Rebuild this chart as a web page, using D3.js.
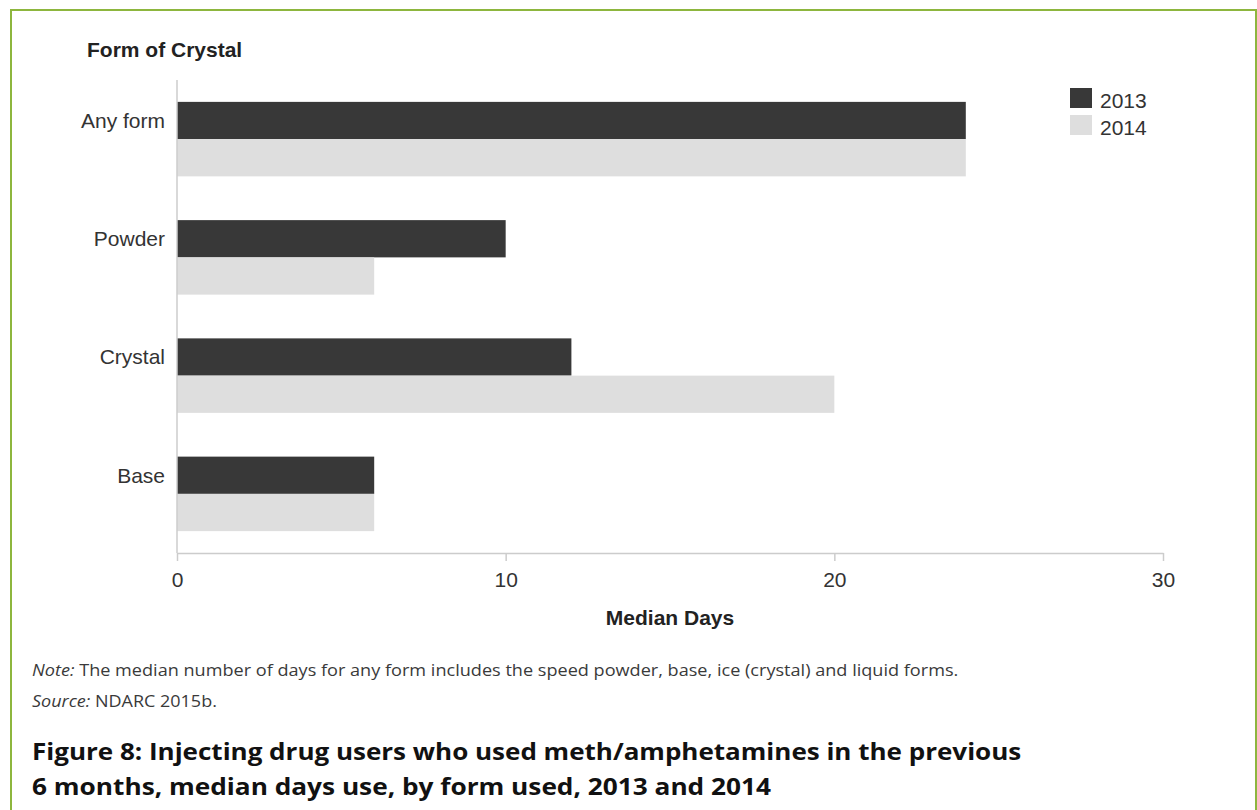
<!DOCTYPE html>
<html><head><meta charset="utf-8">
<script src="https://cdn.jsdelivr.net/npm/d3@7"></script>
<style>body{margin:0;background:#fff;} svg{display:block;}</style>
</head><body>
<svg id="chart" width="1257" height="810"></svg>
<script>
const categories = ["Any form", "Powder", "Crystal", "Base"];
const seriesNames = ["2013", "2014"];
const values2013 = [24, 10, 12, 6];
const values2014 = [24, 6, 20, 6];
const xTicks = [0, 10, 20, 30];
const colors = ["#383838", "#dedede"];

const svg = d3.select("#chart");
const font = "'Liberation Sans', Arial, sans-serif";
const textCol = "#333333";

// green frame
svg.append("path").attr("d", "M11,812 L11,10 L1256,10 L1256,812")
  .attr("fill", "none").attr("stroke", "#8db63e").attr("stroke-width", 2);

const x = d3.scaleLinear().domain([0, 30]).range([177, 1163]);
const y = d3.scaleBand().domain(categories).range([80, 553]).paddingInner(0.37).paddingOuter(0.185);
const ys = d3.scaleBand().domain(seriesNames).range([0, y.bandwidth()]);

const data = categories.map((c, i) => ({cat: c, vals: [values2013[i], values2014[i]]}));

// bars
const g = svg.append("g");
data.forEach(d => {
  d.vals.forEach((v, j) => {
    g.append("rect")
      .attr("x", x(0))
      .attr("y", y(d.cat) + ys(seriesNames[j]))
      .attr("width", x(v) - x(0))
      .attr("height", ys.bandwidth())
      .attr("fill", colors[j]);
  });
});

// y axis line
svg.append("line").attr("x1", x(0)).attr("x2", x(0)).attr("y1", 80).attr("y2", 553)
  .attr("stroke", "#cccccc").attr("stroke-width", 1.5);

// x axis
const xAxis = svg.append("g").attr("transform", "translate(0,553)")
  .call(d3.axisBottom(x).tickValues(xTicks).tickSize(8).tickPadding(11).tickSizeOuter(0));
xAxis.select(".domain").attr("stroke", "#cccccc").attr("stroke-width", 1.5);
xAxis.selectAll(".tick line").attr("stroke", "#cccccc").attr("stroke-width", 1.5);
xAxis.selectAll(".tick text").attr("font-family", font).attr("font-size", 21).attr("fill", textCol);

// category labels (aligned with the first bar of each group)
svg.append("g").selectAll("text").data(categories).join("text")
  .attr("x", 165).attr("y", d => y(d) + ys("2013") + ys.bandwidth() / 2)
  .attr("dy", "0.35em").attr("text-anchor", "end")
  .attr("font-family", font).attr("font-size", 21).attr("fill", textCol)
  .text(d => d);

// y title
svg.append("text").attr("x", 87).attr("y", 57).attr("font-family", font)
  .attr("font-size", 21).attr("font-weight", "bold").attr("fill", "#222").text("Form of Crystal");

// x title
svg.append("text").attr("x", 670).attr("y", 625).attr("text-anchor", "middle").attr("font-family", font)
  .attr("font-size", 21).attr("font-weight", "bold").attr("fill", "#222").text("Median Days");

// legend
const leg = svg.append("g").attr("transform", "translate(1070,88)");
seriesNames.forEach((s, i) => {
  leg.append("rect").attr("x", 0).attr("y", i * 27).attr("width", 22).attr("height", 20).attr("fill", colors[i]);
  leg.append("text").attr("x", 30).attr("y", i * 27 + 20)
    .attr("font-family", font).attr("font-size", 21).attr("fill", textCol).text(s);
});

// helper: squeeze a text horizontally to a target width
function fit(sel, x0, y0, target) {
  const w = sel.node().getBBox().width;
  sel.attr("x", 0).attr("y", 0)
    .attr("transform", `translate(${x0},${y0}) scale(${target / w},1)`);
}

// notes
const nf = "'Open Sans', 'Noto Sans', sans-serif";
const note = svg.append("text").attr("font-family", nf)
  .attr("font-size", 15.5).attr("fill", "#3a3a3a");
note.append("tspan").attr("font-style", "italic").text("Note:");
note.append("tspan").text(" The median number of days for any form includes the speed powder, base, ice (crystal) and liquid forms.");
fit(note, 32, 676, 927);

const src = svg.append("text").attr("font-family", nf)
  .attr("font-size", 15.5).attr("fill", "#3a3a3a");
src.append("tspan").attr("font-style", "italic").text("Source:");
src.append("tspan").text(" NDARC 2015b.");
fit(src, 32, 707, 185);

// figure title
const t1 = svg.append("text").attr("font-family", nf)
  .attr("font-size", 24).attr("font-weight", "bold").attr("fill", "#111")
  .text("Figure 8: Injecting drug users who used meth/amphetamines in the previous");
fit(t1, 32, 760, 990);
const t2 = svg.append("text").attr("font-family", nf)
  .attr("font-size", 24).attr("font-weight", "bold").attr("fill", "#111")
  .text("6 months, median days use, by form used, 2013 and 2014");
fit(t2, 32, 795, 740);
</script>
</body></html>
